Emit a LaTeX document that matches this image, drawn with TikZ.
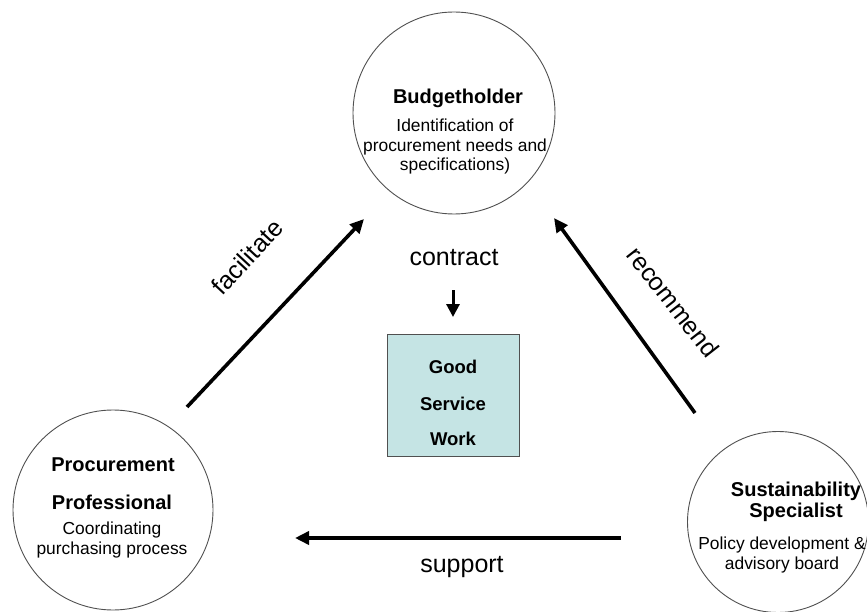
\documentclass[tikz,border=0pt]{standalone}
\usepackage{fontspec}
\setmainfont{Liberation Sans}
\usetikzlibrary{arrows.meta}
\definecolor{boxfill}{HTML}{C5E4E4}
\definecolor{ringgray}{HTML}{505050}
\tikzset{
  actor/.style={circle, draw=ringgray, line width=0.9pt, fill=white, inner sep=0pt},
  title/.style={font=\fontsize{20}{22}\selectfont\bfseries, inner sep=0pt, anchor=center},
  desc/.style={font=\fontsize{17.4}{19.5}\selectfont, inner sep=0pt, align=center, anchor=center},
  rel/.style={font=\fontsize{25}{28}\selectfont, inner sep=0pt, anchor=center},
  flow/.style={line width=3.6pt, -{Triangle[length=14pt,width=13pt]}},
  smallflow/.style={line width=3pt, -{Triangle[length=13pt,width=13pt]}},
  product/.style={draw=ringgray, line width=0.9pt, fill=boxfill, minimum width=132pt, minimum height=122pt, inner sep=0pt},
  prodtext/.style={font=\fontsize{18.5}{20}\selectfont\bfseries, inner sep=0pt, anchor=center}
}
\begin{document}
\begin{tikzpicture}[x=1pt,y=-1pt]
\useasboundingbox (0,0) rectangle (867,612);
% actors
\node[actor, minimum size=202pt] (budget) at (454,113) {};
\node[actor, minimum size=200pt] (proc) at (113,510) {};
\node[actor, minimum size=181pt] (sust) at (778,522) {};
% budgetholder text
\node[title] (bt) at (458,98) {Budgetholder};
\node[desc] (bd) at (455,147) {Identification of\\procurement needs and\\specifications)};
% procurement text
\node[title] (pt1) at (113,465) {Procurement};
\node[title] (pt2) at (112,502) {Professional};
\node[desc] (pd) at (112,540) {Coordinating\\purchasing process};
% sustainability text
\node[title, align=center, font=\fontsize{20}{21}\selectfont\bfseries] (st) at (796,502) {Sustainability\\Specialist};
\node[desc] (sd) at (782,555) {Policy development \&\\advisory board};
% product box
\node[product] (prod) at (453,395) {};
\node[prodtext] (g1) at (453,367) {Good};
\node[prodtext] (g2) at (453,404) {Service};
\node[prodtext] (g3) at (453,439) {Work};
% contract
\node[rel] (contract) at (454,258) {contract};
\coordinate (c1) at (453,290);
\coordinate (c2) at (453,317);
\draw[smallflow] (c1) -- (c2);
% arrows
\coordinate (f1) at (187,407);
\coordinate (f2) at (364,219);
\draw[flow] (f1) -- (f2);
\node[rel, rotate=47] (facil) at (247,257) {facilitate};
\coordinate (r1) at (695,413);
\coordinate (r2) at (554,218);
\draw[flow] (r1) -- (r2);
\node[rel, rotate=-52] (recom) at (673,302) {recommend};
\coordinate (s1) at (621,538);
\coordinate (s2) at (295,538);
\draw[flow] (s1) -- (s2);
\node[rel] (support) at (462,567) {support};
\end{tikzpicture}
\end{document}
